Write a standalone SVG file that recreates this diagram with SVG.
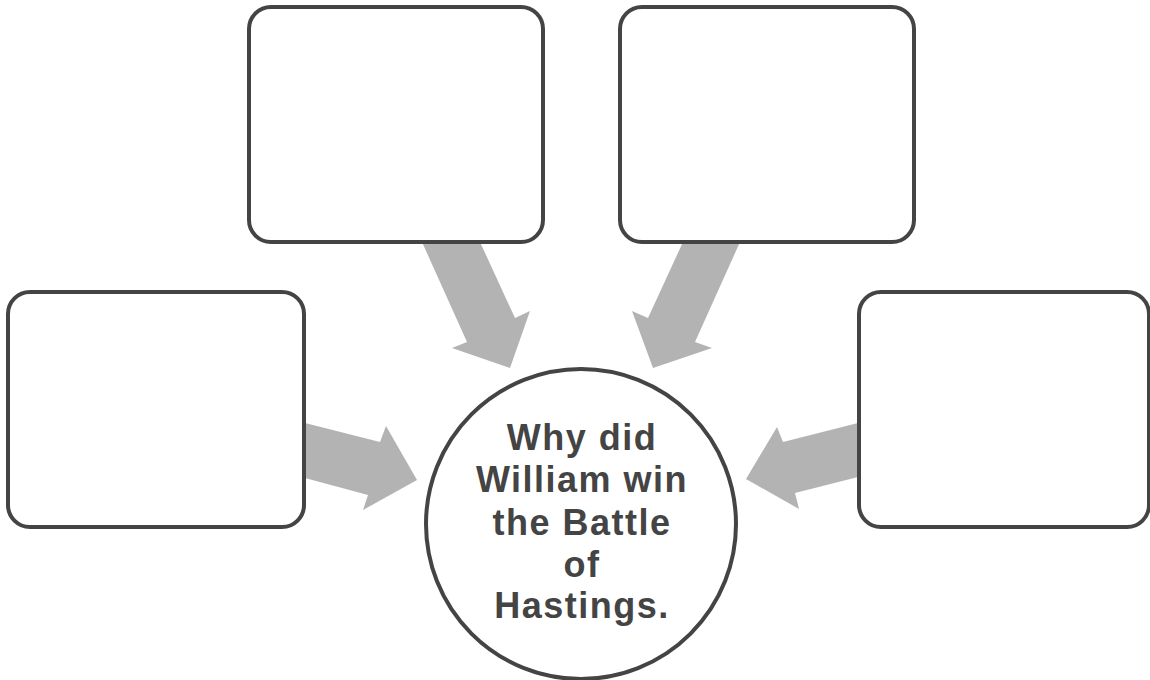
<svg xmlns="http://www.w3.org/2000/svg" width="1150" height="680" viewBox="0 0 1150 680">
<style>
.box{fill:#fff;stroke:#444;stroke-width:4}
.arrow{fill:#b3b3b3}
.lbl{font-family:"Liberation Sans",Arial,sans-serif;font-weight:bold;font-size:36px;letter-spacing:1.5px;fill:#444;text-anchor:middle}
</style>
<rect width="1150" height="680" fill="#fff"/>
<g id="connectors">
<polygon class="arrow" points="422,242 480,242 515,318 530,311 510,368 452,348 467,342"/>
<polygon class="arrow" points="740,242 683,242 648,318 632,311 653,368 712,348 695,342"/>
<polygon class="arrow" points="305,423 380,442 386,426 417,480 363,510 368,495 305,478"/>
<polygon class="arrow" points="858,423 783,442 777,427 746,479 799,509 795,493 858,477"/>
</g>
<g id="box-top-left"><rect class="box" x="249" y="7" width="294" height="235" rx="22"/></g>
<g id="box-top-right"><rect class="box" x="620" y="7" width="294" height="235" rx="22"/></g>
<g id="box-left"><rect class="box" x="8" y="292" width="296" height="235" rx="22"/></g>
<g id="box-right"><rect class="box" x="859" y="292" width="290" height="235" rx="22"/></g>
<g id="center">
<circle cx="581" cy="524" r="155" fill="#fff" stroke="#444" stroke-width="4"/>
<text class="lbl" x="582" y="450">Why did</text>
<text class="lbl" x="582" y="492">William win</text>
<text class="lbl" x="582" y="535">the Battle</text>
<text class="lbl" x="582" y="577">of</text>
<text class="lbl" x="582" y="618">Hastings.</text>
</g>
</svg>
